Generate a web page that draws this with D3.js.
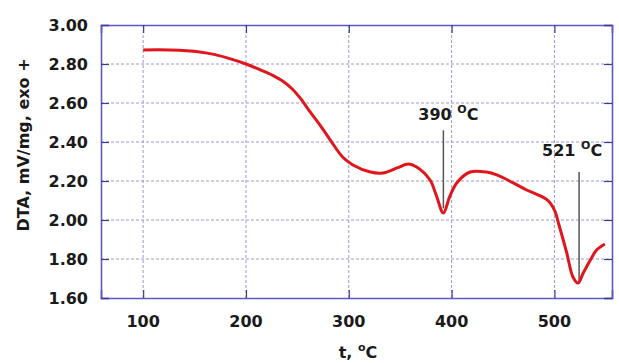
<!DOCTYPE html>
<html>
<head>
<meta charset="utf-8">
<script src="https://cdn.jsdelivr.net/npm/d3@7"></script>
<style>
  body { margin: 0; background: #fff; }
  text { font-family: "DejaVu Sans", Arial, sans-serif; font-weight: bold; fill: #1a1a1a; }
</style>
</head>
<body>
<div id="container"></div>
<script>
// temperature (°C) and DTA signal (mV/mg)
var temps = [100, 126, 155, 170, 185, 200, 214, 226, 236, 245, 253, 262, 272, 282, 294, 304, 321, 333, 347, 358, 366, 379, 385, 392, 398, 405, 418, 434, 444, 460, 473, 493, 500, 505, 512, 518, 523, 528, 535, 541, 549];
var dta   = [2.872, 2.872, 2.862, 2.848, 2.826, 2.8, 2.77, 2.742, 2.712, 2.672, 2.624, 2.557, 2.487, 2.41, 2.323, 2.282, 2.246, 2.241, 2.267, 2.287, 2.272, 2.205, 2.128, 2.036, 2.118, 2.19, 2.246, 2.246, 2.231, 2.19, 2.154, 2.103, 2.051, 1.964, 1.831, 1.708, 1.677, 1.728, 1.795, 1.846, 1.877];

var xTicks = [100, 200, 300, 400, 500];
var yTicks = [1.6, 1.8, 2.0, 2.2, 2.4, 2.6, 2.8, 3.0];

// peak markers: where, label, top and bottom of the marker line
var peakT     = [392, 524];
var peakLabel = ["390", "521"];
var peakTop   = [2.46, 2.246];
var peakBot   = [2.06, 1.69];

var width = 619;
var height = 363;
var margin = {left: 101, top: 25, right: 7, bottom: 65};

var svg = d3.select("#container")
            .append("svg")
            .attr("width", width)
            .attr("height", height);

var xScale = d3.scaleLinear()
               .domain([59, 556])
               .range([margin.left, width - margin.right]);

var yScale = d3.scaleLinear()
               .domain([1.6, 3.0])
               .range([height - margin.bottom, margin.top]);

var frame = "#5a5ac4";
var grid = "#9a9ad6";

// gridlines
svg.selectAll(".vgrid")
   .data(xTicks)
   .enter()
   .append("line")
   .attr("x1", d => xScale(d))
   .attr("x2", d => xScale(d))
   .attr("y1", yScale(3.0))
   .attr("y2", yScale(1.6))
   .attr("stroke", grid)
   .attr("stroke-width", 1)
   .attr("stroke-dasharray", "3,2");

svg.selectAll(".hgrid")
   .data(yTicks.slice(1, -1))
   .enter()
   .append("line")
   .attr("x1", xScale.range()[0])
   .attr("x2", xScale.range()[1])
   .attr("y1", d => yScale(d))
   .attr("y2", d => yScale(d))
   .attr("stroke", grid)
   .attr("stroke-width", 1)
   .attr("stroke-dasharray", "3,2");

// axes, ticks pointing inwards, labels drawn separately
var xAxis = d3.axisBottom(xScale).tickValues(xTicks).tickSize(-8).tickFormat("");
var xAxisTop = d3.axisTop(xScale).tickValues(xTicks).tickSize(-8).tickFormat("");
var yAxis = d3.axisLeft(yScale).tickValues(yTicks).tickSize(-8).tickFormat("");
var yAxisRight = d3.axisRight(yScale).tickValues(yTicks).tickSize(-8).tickFormat("");

svg.append("g").attr("transform", "translate(0," + yScale(1.6) + ")").call(xAxis);
svg.append("g").attr("transform", "translate(0," + yScale(3.0) + ")").call(xAxisTop);
svg.append("g").attr("transform", "translate(" + xScale.range()[0] + ",0)").call(yAxis);
svg.append("g").attr("transform", "translate(" + xScale.range()[1] + ",0)").call(yAxisRight);

svg.selectAll(".domain").attr("stroke", frame).attr("stroke-width", 1.6);
svg.selectAll(".tick line").attr("stroke", "#3a3a9a").attr("stroke-width", 1.2);

// tick labels
svg.selectAll(".xlab")
   .data(xTicks)
   .enter()
   .append("text")
   .attr("x", d => xScale(d))
   .attr("y", 327)
   .attr("text-anchor", "middle")
   .style("font-size", "16px")
   .text(d => d);

svg.selectAll(".ylab")
   .data(yTicks)
   .enter()
   .append("text")
   .attr("x", 88)
   .attr("y", d => yScale(d) + 6)
   .attr("text-anchor", "end")
   .style("font-size", "16px")
   .text(d => d.toFixed(2));

// axis titles
svg.append("text")
   .attr("transform", "translate(29,145) rotate(-90)")
   .attr("text-anchor", "middle")
   .style("font-size", "16px")
   .text("DTA, mV/mg, exo +");

var xt = svg.append("text")
   .attr("x", 358)
   .attr("y", 358)
   .attr("text-anchor", "middle")
   .style("font-size", "16px");
xt.append("tspan").text("t, ");
xt.append("tspan").attr("dy", -7).style("font-size", "11px").text("o");
xt.append("tspan").attr("dy", 7).text("C");

// peak markers
svg.selectAll(".peakline")
   .data(peakT)
   .enter()
   .append("line")
   .attr("x1", d => xScale(d))
   .attr("x2", d => xScale(d))
   .attr("y1", (d, i) => yScale(peakTop[i]))
   .attr("y2", (d, i) => yScale(peakBot[i]))
   .attr("stroke", "#555")
   .attr("stroke-width", 1.5);

// the curve
var line = d3.line()
             .x((d, i) => xScale(temps[i]))
             .y(d => yScale(d))
             .curve(d3.curveCatmullRom);

svg.append("path")
   .datum(dta)
   .attr("d", line)
   .attr("fill", "none")
   .attr("stroke", "#e0161c")
   .attr("stroke-width", 3);

peakT.forEach(function (t, i) {
    var lab = svg.append("text")
       .attr("x", xScale(t) + (i == 0 ? 5 : -7))
       .attr("y", yScale(peakTop[i]) - (i == 0 ? 10 : 16))
       .attr("text-anchor", "middle")
       .style("font-size", "16px");
    lab.append("tspan").text(peakLabel[i] + " ");
    lab.append("tspan").attr("dy", -7).style("font-size", "11px").text("O");
    lab.append("tspan").attr("dy", 7).text("C");
});
</script>
</body>
</html>
